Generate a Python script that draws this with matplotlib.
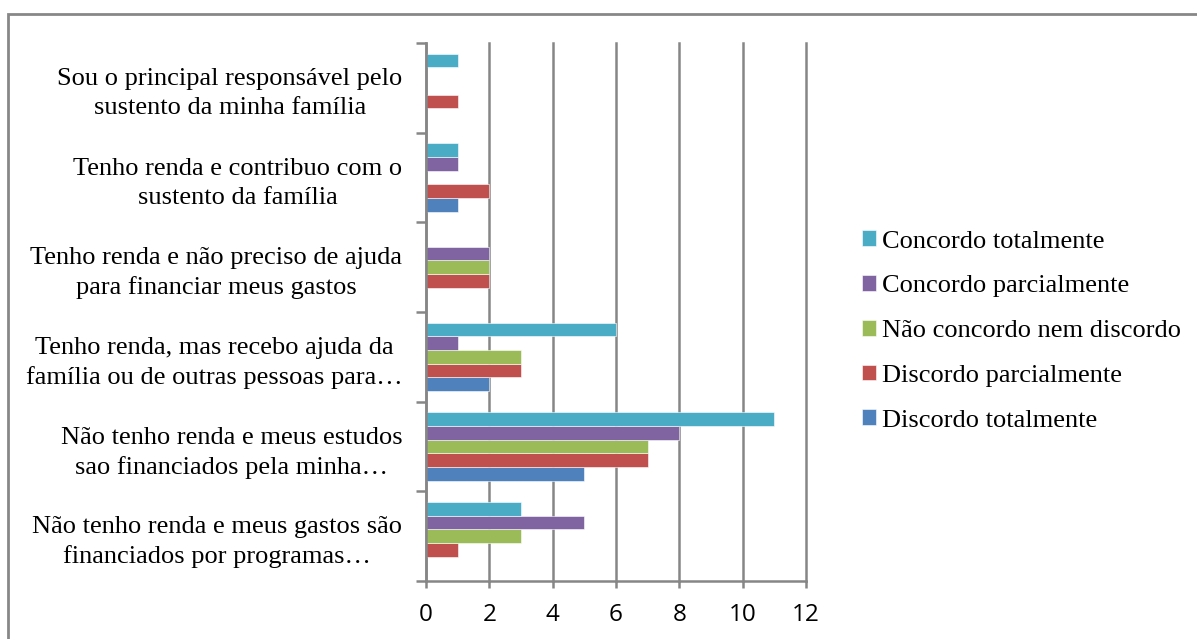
import matplotlib.pyplot as plt
import numpy as np
from matplotlib.patches import Rectangle

# categories, bottom to top
categories = [
    "Não tenho renda e meus gastos são\nfinanciados por programas…",
    "Não tenho renda e meus estudos\nsao financiados pela minha…",
    "Tenho renda, mas recebo ajuda da\nfamília ou de outras pessoas para…",
    "Tenho renda e não preciso de ajuda\npara financiar meus gastos",
    "Tenho renda e contribuo com o\nsustento da família",
    "Sou o principal responsável pelo\nsustento da minha família",
]

discordo_totalmente = [0, 5, 2, 0, 1, 0]
discordo_parcialmente = [1, 7, 3, 2, 2, 1]
nem_concordo = [3, 7, 3, 2, 0, 0]
concordo_parcialmente = [5, 8, 1, 2, 1, 0]
concordo_totalmente = [3, 11, 6, 0, 1, 1]

series_names = ["Discordo totalmente", "Discordo parcialmente",
                "Não concordo nem discordo", "Concordo parcialmente",
                "Concordo totalmente"]
series_values = [discordo_totalmente, discordo_parcialmente, nem_concordo,
                 concordo_parcialmente, concordo_totalmente]
colors = ["#4F81BD", "#C0504D", "#9BBB59", "#8064A2", "#4BACC6"]

x_ticks = [0, 2, 4, 6, 8, 10, 12]

fig = plt.figure(figsize=(11.97, 6.39), dpi=100)
ax = fig.add_axes([426 / 1197, 1 - 581 / 639, 380 / 1197, 538 / 639])

y = np.arange(len(categories))
h = 0.153
for k, (name, vals, c) in enumerate(zip(series_names, series_values, colors)):
    ax.barh(y + (k - 2) * h, vals, height=h, color=c, label=name,
            edgecolor="white", linewidth=0.4, zorder=3)

grid_col = "#868686"
ax.set_xlim(0, 12)
ax.set_ylim(-0.5, len(categories) - 0.5)
ax.set_xticks(x_ticks)
ax.set_xticklabels([str(t) for t in x_ticks], fontfamily="Open Sans", fontsize=17.5)
ax.xaxis.grid(True, color=grid_col, linewidth=1.8, zorder=0)
for gl in ax.xaxis.get_gridlines():
    gl.set_clip_on(False)
ax.tick_params(axis="x", length=5, width=1.8, color=grid_col, pad=11)

ax.set_yticks(y)
ax.set_yticklabels(categories, fontfamily="Liberation Serif", fontsize=19)
for lab in ax.get_yticklabels():
    lab.set_multialignment("center")
    lab.set_linespacing(1.4)
ax.tick_params(axis="y", which="major", length=0, pad=17)
ax.set_yticks(np.arange(-0.5, len(categories), 1), minor=True)
ax.tick_params(axis="y", which="minor", length=7, width=1.8, color=grid_col)

for s in ["top", "right"]:
    ax.spines[s].set_visible(False)
for s in ["left", "bottom"]:
    ax.spines[s].set_color(grid_col)
    ax.spines[s].set_linewidth(1.8)
    ax.spines[s].set_zorder(4)

handles, labels = ax.get_legend_handles_labels()
fig.legend(handles[::-1], labels[::-1], loc="center left",
           bbox_to_anchor=(838 / 1197, 1 - 331 / 639), frameon=False,
           prop={"family": "Liberation Serif", "size": 19},
           handlelength=0.55, handleheight=0.55, handletextpad=0.22,
           labelspacing=0.85)

# outer chart border (top and left visible)
fig.patches.append(Rectangle((8 / 1197, -0.1), 1.2, 1 - 14 / 639 + 0.1,
                             transform=fig.transFigure, fill=False,
                             edgecolor="#878787", linewidth=2))

fig.savefig("out.png", dpi=100)
